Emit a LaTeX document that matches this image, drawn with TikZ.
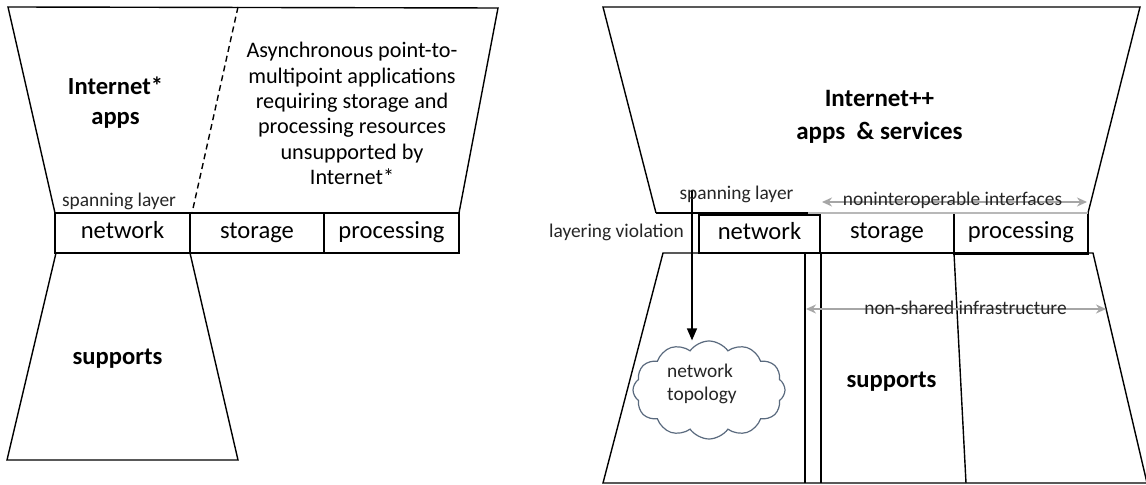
\documentclass[tikz,border=0pt]{standalone}
\usepackage{fontspec}
\setmainfont{Carlito}
\usetikzlibrary{arrows.meta,shapes.symbols}
\definecolor{linegray}{HTML}{A6A6A6}
\definecolor{cloudblue}{HTML}{5A6A7E}
\tikzset{
  layer/.style={draw, line width=0.7pt, inner sep=0pt, minimum height=20pt, text height=8.5pt, text depth=2.5pt, font=\fontsize{12.3}{14}\selectfont},
  smalltext/.style={anchor=base, inner sep=0pt, font=\fontsize{9.7}{11.4}\selectfont, text=black!85},
  bigtext/.style={align=center, inner sep=0pt, font=\bfseries\fontsize{12.3}{15}\selectfont},
  grayarrow/.style={linegray, line width=0.8pt, {Stealth[length=5pt,width=4.5pt]}-{Stealth[length=5pt,width=4.5pt]}},
}
\begin{document}
\begin{tikzpicture}[x=0.5pt, y=-0.5pt, line width=0.7pt]
\fill[white] (0,0) rectangle (1146,485);
\useasboundingbox (0,0) rectangle (1146,485);
\draw (55,213) -- (8,7) -- (498,8) -- (459,213);
\draw[dash pattern=on 3pt off 2pt] (238,7) -- (192,213);
\node[layer, minimum width=67.5pt] (lnet) at (122.5,233) {network};
\node[layer, minimum width=67pt] (lsto) at (257,233) {storage};
\node[layer, minimum width=67.5pt] (lproc) at (391.5,233) {processing};
\draw (56,253) -- (7,460) -- (238,460) -- (190,253);
\node[bigtext] (lapps) at (115.5,103) {Internet*\\apps};
\node[smalltext] (lspan) at (119,207) {spanning layer};
\node[align=center, inner sep=0pt, font=\fontsize{11.1}{12.65}\selectfont] (async) at (352,113.5) {Asynchronous point-to-\\multipoint applications\\requiring storage and\\processing resources\\unsupported by\\Internet*};
\node[bigtext, anchor=base] (lsup) at (117.5,365) {supports};

\draw (656,213) -- (603,7) -- (1140,7) -- (1088,213);
\draw[line width=1.1pt] (656,213) -- (808,213);
\node[layer, minimum width=60.5pt, minimum height=19pt] (rnet) at (759.5,234) {network};
\node[layer, minimum width=67pt] (rsto) at (887,233) {storage};
\node[layer, minimum width=67pt] (rproc) at (1021,233) {processing};
\draw[linegray!80] (808,213) -- (1088,213);
\draw[line width=1.1pt] (rproc.south west) -- (rproc.south east);
\draw (1093,253) -- (663,253) -- (603,483) -- (1147,483) -- cycle;
\draw (805,253) -- (805,483);
\draw (821,253) -- (821,483);
\draw (954,253) -- (966,483);
\coordinate (niL) at (822,202);
\coordinate (niR) at (1087,202);
\draw[grayarrow] (niL) -- (niR);
\node[smalltext] (nonint) at (952.5,206) {noninteroperable interfaces};
\coordinate (nsL) at (806,309);
\coordinate (nsR) at (1106,309);
\draw[grayarrow] (nsL) -- (nsR);
\node[smalltext] (nonshared) at (965.5,315) {non-shared infrastructure};
\node[cloud, draw=cloudblue, fill=white, line width=0.6pt, cloud puffs=12, cloud puff arc=110, aspect=1.55, minimum width=76pt, minimum height=49pt, inner sep=0pt] (cloud) at (709,390) {};
\node[smalltext, anchor=base west] (cloudnet) at (666.5,378) {network};
\node[smalltext, anchor=base west] (cloudtop) at (666.5,400.7) {topology};
\coordinate (viol) at (692,190);
\draw[-{Triangle[length=6pt,width=5pt]}] (viol) -- (viol |- cloud.north);
\node[smalltext] (rviol) at (616.5,238) {layering violation};
\node[smalltext] (rspan) at (736.5,200) {spanning layer};
\node[bigtext, font=\bfseries\fontsize{12.5}{16.5}\selectfont] (rapps) at (879.5,117) {Internet++\\apps~~\& services};
\node[bigtext, anchor=base] (rsup) at (891.5,387.6) {supports};
\end{tikzpicture}
\end{document}
